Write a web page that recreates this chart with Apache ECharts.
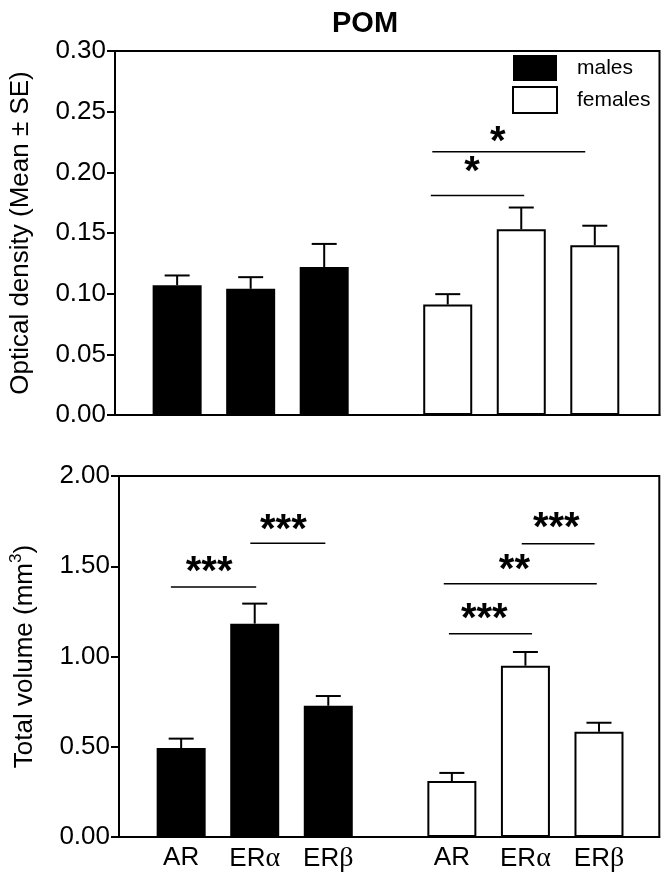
<!DOCTYPE html>
<html>
<head>
<meta charset="utf-8">
<script src="https://cdn.jsdelivr.net/npm/echarts@6/dist/echarts.min.js"></script>
<style>
  html, body { margin: 0; padding: 0; background: #fff; }
  #chart { width: 670px; height: 880px; }
</style>
</head>
<body>
<div id="chart"></div>
<script>
// receptor groups (same order for both sexes)
var groups = ['AR', 'ERα', 'ERβ'];

// optical density, mean and SE
var odMales = [0.107, 0.104, 0.122];
var odMalesSE = [0.008, 0.0096, 0.019];
var odFemales = [0.091, 0.153, 0.140];
var odFemalesSE = [0.0086, 0.018, 0.016];

// total volume (mm3), mean and SE
var volMales = [0.493, 1.182, 0.727];
var volMalesSE = [0.052, 0.111, 0.054];
var volFemales = [0.310, 0.949, 0.583];
var volFemalesSE = [0.045, 0.076, 0.050];

// y axes: min, max, step
var odTicks = [0, 0.30, 0.05];
var volTicks = [0, 2.00, 0.50];

// significance brackets: [from, to, level] and star position [x, y]
var odSigLines = [[3.45, 4.72, 0.181], [3.47, 5.55, 0.217]];
var odSigMarks = [[4.01, 0.206], [4.36, 0.231]];
var odSigText = ['*', '*'];
var volSigLines = [[-0.14, 1.02, 1.385], [0.94, 1.96, 1.627], [3.64, 4.77, 1.126], [3.57, 5.65, 1.403], [4.63, 5.62, 1.625]];
var volSigMarks = [[0.38, 1.507], [1.39, 1.738], [4.12, 1.248], [4.53, 1.516], [5.10, 1.752]];
var volSigText = ['***', '***', '***', '**', '***'];

// bar slots: males 0,1,2 ; females shifted right
var femaleOffset = 3.68;
function pts(vals, off) { return vals.map(function (v, i) { return [off + i, v]; }); }
function errPts(vals, se, off) { return vals.map(function (v, i) { return [off + i, v, se[i]]; }); }
function sigPts(lines, marks) { return lines.map(function (l, i) { return [l[0], l[1], l[2], marks[i][0], marks[i][1]]; }); }

function catLabel(name) {
    return name.replace('α', '{g|α}').replace('β', '{g|β}');
}

var myChart = echarts.init(document.getElementById('chart'));

function errorBar(params, api) {
    var x = api.value(0), m = api.value(1), s = api.value(2);
    var p0 = api.coord([x, m]);
    var p1 = api.coord([x, m + s]);
    var style = { stroke: '#000', lineWidth: 2 };
    return {
        type: 'group',
        children: [
            { type: 'line', shape: { x1: p0[0], y1: p0[1], x2: p1[0], y2: p1[1] }, style: style },
            { type: 'line', shape: { x1: p1[0] - 12.5, y1: p1[1], x2: p1[0] + 12.5, y2: p1[1] }, style: style }
        ]
    };
}

function sigRender(texts) {
    return function (params, api) {
        var a = api.coord([api.value(0), api.value(2)]);
        var b = api.coord([api.value(1), api.value(2)]);
        var t = api.coord([api.value(3), api.value(4)]);
        return {
            type: 'group',
            children: [
                { type: 'line', shape: { x1: a[0], y1: a[1], x2: b[0], y2: b[1] }, style: { stroke: '#000', lineWidth: 1.5 } },
                { type: 'text', x: t[0], y: t[1] + 8, style: { text: texts[params.dataIndex], fill: '#000', font: 'bold 40px "Liberation Sans", Arial', textAlign: 'center', textVerticalAlign: 'middle' } }
            ]
        };
    };
}

var font = '"Liberation Sans", Arial, sans-serif';

var yAxisBase = {
    type: 'value',
    axisLine: { show: true, onZero: false, lineStyle: { color: '#000', width: 2 } },
    axisTick: { show: true, length: 8, lineStyle: { color: '#000', width: 2 } },
    splitLine: { show: false },
    axisLabel: { color: '#000', fontSize: 26, fontFamily: font, margin: 9, formatter: function (v) { return v.toFixed(2); } },
    nameLocation: 'middle',
    nameRotate: 90,
    nameTextStyle: { color: '#000', fontSize: 26, fontFamily: font }
};

var xAxisBase = {
    type: 'value',
    min: -0.845,
    axisLine: { show: true, onZero: false, lineStyle: { color: '#000', width: 2 } },
    axisTick: { show: false },
    axisLabel: { show: false },
    splitLine: { show: false }
};

var barLabel = {
    show: true,
    position: 'bottom',
    distance: 8,
    color: '#000',
    fontSize: 26,
    fontFamily: font,
    formatter: function (p) { return catLabel(groups[p.dataIndex]); },
    rich: { g: { fontFamily: '"Liberation Serif", serif', fontSize: 28, color: '#000' } }
};

var maleStyle = { color: '#000' };
var femaleStyle = { color: '#fff', borderColor: '#000', borderWidth: 2 };

var option = {
    animation: false,
    backgroundColor: '#fff',
    title: {
        text: 'POM',
        left: 327,
        top: 4,
        textStyle: { color: '#000', fontSize: 29, fontWeight: 'bold', fontFamily: font }
    },
    legend: {
        data: ['males', 'females'],
        orient: 'vertical',
        left: 512,
        top: 55,
        padding: 0,
        icon: 'rect',
        itemWidth: 44,
        itemHeight: 26,
        itemGap: 5,
        selectedMode: false,
        textStyle: { color: '#000', fontSize: 21, fontFamily: font, padding: [0, 0, 0, 15] }
    },
    grid: [
        { left: 112, top: 51, right: 10.5, height: 364, show: true, borderColor: '#000', borderWidth: 2 },
        { left: 118, top: 476, right: 10.7, height: 361, show: true, borderColor: '#000', borderWidth: 2 }
    ],
    xAxis: [
        Object.assign({}, xAxisBase, { gridIndex: 0, max: 6.56 }),
        Object.assign({}, xAxisBase, { gridIndex: 1, max: 6.50 })
    ],
    yAxis: [
        Object.assign({}, yAxisBase, { gridIndex: 0, min: odTicks[0], max: odTicks[1], interval: odTicks[2], name: 'Optical density (Mean ± SE)', nameGap: 81 }),
        Object.assign({}, yAxisBase, {
            gridIndex: 1, min: volTicks[0], max: volTicks[1], interval: volTicks[2], name: 'Total volume (mm{sup|3})', nameGap: 78,
            nameTextStyle: { color: '#000', fontSize: 26, fontFamily: font, rich: { sup: { fontSize: 17, fontFamily: font, color: '#000', padding: [0, 0, 16, 0] } } }
        })
    ],
    series: [
        { name: 'males', type: 'bar', xAxisIndex: 0, yAxisIndex: 0, barWidth: 49, barGap: '-100%', itemStyle: maleStyle, data: pts(odMales, 0) },
        { name: 'females', type: 'bar', xAxisIndex: 0, yAxisIndex: 0, barWidth: 49, barGap: '-100%', itemStyle: femaleStyle, data: pts(odFemales, femaleOffset) },
        { type: 'custom', xAxisIndex: 0, yAxisIndex: 0, renderItem: errorBar, data: errPts(odMales, odMalesSE, 0).concat(errPts(odFemales, odFemalesSE, femaleOffset)), z: 5 },
        { type: 'custom', xAxisIndex: 0, yAxisIndex: 0, renderItem: sigRender(odSigText), data: sigPts(odSigLines, odSigMarks), z: 5 },

        { name: 'males', type: 'bar', xAxisIndex: 1, yAxisIndex: 1, barWidth: 49, barGap: '-100%', itemStyle: maleStyle, label: barLabel, data: pts(volMales, 0) },
        { name: 'females', type: 'bar', xAxisIndex: 1, yAxisIndex: 1, barWidth: 49, barGap: '-100%', itemStyle: femaleStyle, label: barLabel, data: pts(volFemales, femaleOffset) },
        { type: 'custom', xAxisIndex: 1, yAxisIndex: 1, renderItem: errorBar, data: errPts(volMales, volMalesSE, 0).concat(errPts(volFemales, volFemalesSE, femaleOffset)), z: 5 },
        { type: 'custom', xAxisIndex: 1, yAxisIndex: 1, renderItem: sigRender(volSigText), data: sigPts(volSigLines, volSigMarks), z: 5 }
    ]
};

myChart.setOption(option);
</script>
</body>
</html>
